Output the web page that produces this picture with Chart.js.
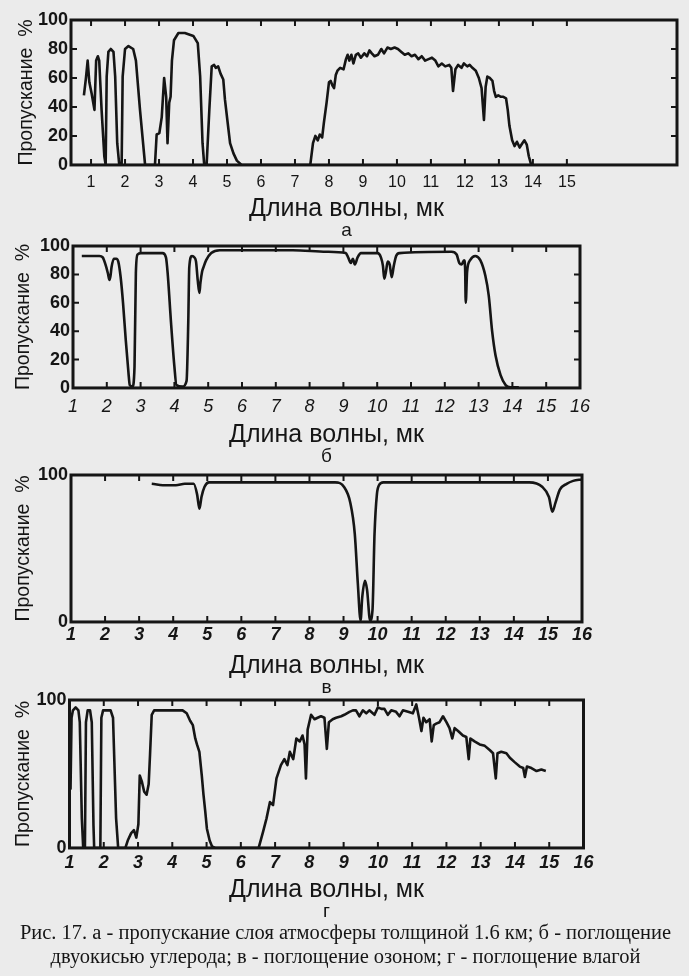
<!DOCTYPE html>
<html lang="ru">
<head>
<meta charset="utf-8">
<title>Рис. 17</title>
<script src="https://cdn.jsdelivr.net/npm/chart.js@4.4.1/dist/chart.umd.min.js"></script>
<style>
  html, body { margin: 0; padding: 0; background: #ebebeb; }
  body { width: 689px; height: 976px; position: relative; overflow: hidden; }
  canvas { position: absolute; left: 0; }
  .caption {
    position: absolute; left: 0; top: 920px; width: 691px;
    text-align: center; color: #151515;
    font: 20.5px 'Liberation Serif', 'Times New Roman', serif; line-height: 24px;
  }
</style>
</head>
<body>
<canvas id="chartA" width="689" height="240" style="top:0px"></canvas>
<canvas id="chartB" width="689" height="238" style="top:228px"></canvas>
<canvas id="chartC" width="689" height="239" style="top:458px"></canvas>
<canvas id="chartD" width="689" height="237" style="top:684px"></canvas>
<div class="caption">Рис. 17. а - пропускание слоя атмосферы толщиной 1.6 км; б - поглощение<br>двуокисью углерода; в - поглощение озоном; г - поглощение влагой</div>

<script>
const ink = '#151515';
const yTitle = 'Пропускание  %';
const xTitle = 'Длина волны, мк';

// а - атмосфера 1.6 км
const waveA = [
  0.79, 0.85, 0.90, 0.95, 1.02, 1.10, 1.15, 1.20, 1.24, 1.31, 1.39, 1.43,
  1.46, 1.51, 1.58, 1.66, 1.71, 1.77, 1.83,
  1.90, 1.93, 2.00, 2.10, 2.24, 2.32, 2.44, 2.59,
  2.88, 2.93, 3.01, 3.08, 3.15, 3.21, 3.25, 3.30, 3.34, 3.38, 3.44, 3.57, 3.76, 4.01, 4.14, 4.21, 4.28, 4.33,
  4.40, 4.48, 4.55, 4.62, 4.67, 4.74, 4.81, 4.89, 4.94, 5.01, 5.09, 5.19, 5.29, 5.43,
  7.45, 7.53, 7.60, 7.67, 7.73, 7.80, 7.85, 7.93, 8.00, 8.05, 8.10, 8.15, 8.20, 8.25, 8.33, 8.43, 8.50, 8.55,
  8.60, 8.66, 8.72, 8.79, 8.86, 8.94, 9.04, 9.12, 9.19, 9.26, 9.34, 9.44, 9.54, 9.62, 9.72, 9.82, 9.93,
  10.03, 10.13, 10.23, 10.33, 10.43, 10.53, 10.63, 10.73, 10.83, 10.93, 11.03, 11.13, 11.22, 11.32, 11.42,
  11.54, 11.60, 11.65, 11.72, 11.80, 11.90, 11.97, 12.07, 12.14, 12.22, 12.32, 12.41, 12.49, 12.56, 12.61,
  12.66, 12.73, 12.81, 12.86, 12.91, 12.98, 13.06, 13.13, 13.21, 13.26, 13.31, 13.39, 13.46, 13.53, 13.61,
  13.69, 13.75, 13.82, 13.88, 13.95
];
const transA = [
  48, 60, 72, 57, 49, 38, 72, 75, 72, 38, 6, 0,
  61, 78, 80, 78, 61, 15, 0,
  0, 61, 80, 82, 80, 72, 38, 0,
  0, 21, 22, 33, 60, 47, 15, 43, 47, 72, 86, 91, 91, 89, 84, 61, 15, 0,
  0, 38, 68, 69, 67, 68, 63, 59, 45, 31, 15, 8, 3, 0,
  0, 15, 20, 17, 21, 19, 29, 43, 57, 58, 55, 53, 62, 65, 67, 66, 73, 76,
  72, 76, 70, 76, 77, 74, 77, 75, 79, 77, 75, 76, 80, 77, 81, 80, 81,
  80, 78, 76, 77, 75, 76, 73, 75, 72, 73, 74, 72, 68, 70, 68,
  69, 67, 51, 66, 69, 67, 70, 68, 69, 67, 65, 60, 53, 31, 54,
  61, 60, 58, 51, 47, 48, 47, 47, 46, 38, 27, 17, 13, 16, 12,
  15, 17, 14, 6, 0
];

// б - двуокись углерода
const waveB = [
  1.26, 1.78, 1.88, 1.96, 2.03, 2.08, 2.11, 2.14, 2.21, 2.28, 2.34, 2.41, 2.48, 2.56, 2.64,
  2.68, 2.76, 2.82, 2.86, 2.91, 3.01, 3.65, 3.75, 3.80, 3.90, 4.00, 4.06, 4.24, 4.36, 4.41,
  4.44, 4.52, 4.59, 4.64, 4.69, 4.74, 4.77, 4.82, 4.86, 4.94, 5.09, 5.34, 5.83, 6.43, 7.50,
  8.50, 9.07, 9.14, 9.22, 9.28, 9.34, 9.42, 9.52, 10.01, 10.11, 10.17, 10.21, 10.26, 10.31, 10.37,
  10.43, 10.49, 10.56, 10.66, 12.20, 12.35, 12.43, 12.50, 12.57, 12.60, 12.62, 12.66, 12.75, 12.90, 13.05,
  13.20, 13.30, 13.40, 13.50, 13.65, 13.80, 13.94, 14.19
];
const transB = [
  93, 93, 92, 87, 81, 76, 79, 85, 91, 91, 89, 78, 60, 34, 11,
  2, 1, 15, 81, 94, 95, 95, 92, 81, 46, 15, 2, 1, 5, 46,
  85, 93, 92, 89, 76, 67, 74, 82, 85, 90, 95, 97, 97, 97, 97,
  96, 95, 92, 88, 91, 87, 92, 95, 95, 92, 86, 77, 82, 89, 87,
  78, 86, 93, 95, 96, 94, 88, 87, 90, 85, 60, 82, 90, 93, 90,
  79, 65, 40, 23, 9, 2, 0.5, 0.5
];

// в - озон
const waveC = [
  3.37, 3.82, 4.08, 4.34, 4.60, 4.70, 4.77, 4.83, 4.92, 5.05,
  8.75, 9.01, 9.20, 9.33, 9.42, 9.50, 9.55, 9.63, 9.69, 9.78,
  9.85, 9.91, 9.98, 10.04, 10.17, 14.45, 14.83, 15.03, 15.13, 15.22,
  15.35, 15.55, 15.74, 16.0
];
const transC = [
  94, 93, 93, 94, 94, 87, 77, 85, 92, 95,
  95, 92, 81, 60, 26, 1, 17, 28, 22, 1,
  8, 60, 87, 93, 95, 95, 92, 85, 75, 81,
  90, 94, 96, 97
];

// г - влага
const waveD = [
  1.00, 1.03, 1.06, 1.10, 1.18, 1.26, 1.30, 1.36, 1.40,
  1.45, 1.48, 1.53, 1.60, 1.65, 1.70, 1.72,
  1.90, 1.93, 1.98, 2.20, 2.27, 2.36, 2.42,
  2.63, 2.70, 2.80, 2.88, 2.95, 3.01, 3.05, 3.11, 3.18, 3.25, 3.31, 3.35, 3.40, 3.47, 4.30,
  4.42, 4.52, 4.60, 4.67, 4.72, 4.79, 4.86, 4.91, 4.96, 5.01, 5.09, 5.16, 5.25,
  6.52, 6.65, 6.75, 6.85, 6.94, 7.04, 7.17, 7.27, 7.36, 7.43, 7.53, 7.62, 7.72, 7.80, 7.86, 7.90, 7.95, 8.05,
  8.15, 8.24, 8.34, 8.44, 8.51, 8.57, 8.68, 8.78, 8.93, 9.02, 9.17, 9.27, 9.36, 9.46, 9.56,
  9.66, 9.75, 9.90, 10.00, 10.10, 10.19, 10.29, 10.39, 10.53, 10.63, 10.73, 10.88, 11.02, 11.12, 11.20,
  11.27, 11.33, 11.41, 11.51, 11.57, 11.63, 11.70, 11.80, 11.90, 12.00, 12.09, 12.17, 12.24, 12.34, 12.48,
  12.58, 12.65, 12.70, 12.82, 12.97, 13.12, 13.27, 13.36, 13.44, 13.49, 13.60, 13.75, 13.85, 13.99, 14.14,
  14.24, 14.29, 14.35, 14.48, 14.63, 14.77, 14.90
];
const transD = [
  55, 40, 88, 93, 95, 93, 85, 20, 0,
  0, 85, 93, 93, 85, 15, 0,
  0, 88, 93, 93, 88, 20, 0,
  0, 5, 10, 12, 7, 16, 49, 45, 38, 36, 43, 63, 90, 93, 93,
  91, 86, 83, 74, 70, 65, 49, 36, 25, 13, 5, 1, 0,
  0, 11, 20, 31, 29, 47, 56, 60, 56, 65, 60, 74, 72, 76, 70, 47, 80, 90,
  87, 88, 89, 88, 67, 85, 87, 88, 89, 90, 92, 93, 93, 89, 93,
  91, 93, 90, 95, 94, 94, 90, 93, 92, 89, 93, 92, 91, 97, 88,
  79, 88, 85, 87, 72, 83, 84, 85, 89, 85, 81, 74, 81, 79, 76,
  75, 60, 74, 72, 70, 69, 66, 64, 47, 64, 65, 64, 61, 58, 55,
  54, 48, 55, 54, 52, 53, 52
];

const xTicksA = [1, 2, 3, 4, 5, 6, 7, 8, 9, 10, 11, 12, 13, 14, 15];
const xTicksBCD = [1, 2, 3, 4, 5, 6, 7, 8, 9, 10, 11, 12, 13, 14, 15, 16];
const yTicksAB = [0, 20, 40, 60, 80, 100];
const yTicksCD = [0, 100];

const font = "'Liberation Sans', Arial, sans-serif";
Chart.defaults.font.family = font;
Chart.defaults.color = ink;

// thick frame with short inward tick marks
const framePlugin = {
  id: 'frame',
  afterDatasetsDraw(chart) {
    const {ctx, chartArea: a, scales: {x, y}} = chart;
    ctx.save();
    ctx.strokeStyle = ink;
    ctx.lineWidth = 3;
    ctx.strokeRect(a.left, a.top, a.right - a.left, a.bottom - a.top);
    ctx.lineWidth = 2;
    ctx.beginPath();
    x.ticks.forEach(t => {
      const px = x.getPixelForValue(t.value);
      if (px < a.left + 3 || px > a.right - 3) return;
      ctx.moveTo(px, a.bottom); ctx.lineTo(px, a.bottom - 6);
      ctx.moveTo(px, a.top); ctx.lineTo(px, a.top + 6);
    });
    y.ticks.forEach(t => {
      const py = y.getPixelForValue(t.value);
      if (py < a.top + 3 || py > a.bottom - 3) return;
      ctx.moveTo(a.left, py); ctx.lineTo(a.left + 6, py);
      ctx.moveTo(a.right, py); ctx.lineTo(a.right - 6, py);
    });
    ctx.stroke();
    ctx.restore();
  }
};

function drawPanel(id, wave, trans, o) {
  const points = wave.map((w, i) => ({x: w, y: trans[i]}));
  return new Chart(document.getElementById(id), {
    type: 'line',
    data: {
      datasets: [{
        data: points,
        borderColor: ink,
        borderWidth: 2.6,
        borderJoinStyle: 'round',
        pointRadius: 0,
        tension: 0,
        cubicInterpolationMode: o.smooth ? 'monotone' : 'default',
        fill: false
      }]
    },
    options: {
      responsive: false,
      animation: false,
      events: [],
      layout: { padding: o.padding },
      plugins: {
        legend: { display: false },
        tooltip: { enabled: false },
        title: {
          display: true, text: xTitle, position: 'bottom', weight: 1000,
          fullSize: o.fullTitle, color: ink,
          font: { size: 25, weight: 'normal', lineHeight: 1 },
          padding: { top: o.titleGap, bottom: 0 }
        },
        subtitle: {
          display: true, text: o.letter, position: 'bottom', weight: 1500,
          fullSize: o.fullTitle, color: ink,
          font: { size: 19, lineHeight: 0.95 },
          padding: 0
        }
      },
      scales: {
        x: {
          type: 'linear', min: o.xMin, max: o.xMax,
          grid: { display: false, drawTicks: false },
          border: { display: false },
          afterBuildTicks: s => { s.ticks = o.xTicks.map(v => ({value: v})); },
          afterFit: s => { s.height = o.xAxisHeight; },
          ticks: { font: o.xFont, color: ink, padding: o.xPad, maxRotation: 0, autoSkip: false }
        },
        y: {
          min: 0, max: 100,
          grid: { display: false, drawTicks: false },
          border: { display: false },
          afterBuildTicks: s => { s.ticks = o.yTicks.map(v => ({value: v})); },
          afterFit: s => { s.width = o.yAxisWidth; },
          ticks: { font: { size: 18, weight: 'bold' }, color: ink, padding: 3 },
          title: {
            display: true, text: yTitle, color: ink,
            font: { size: 19.5, lineHeight: 1.1 },
            padding: { top: 0, bottom: 0 }
          }
        }
      }
    },
    plugins: [framePlugin]
  });
}

drawPanel('chartA', waveA, transA, {
  letter: 'а', smooth: false, fullTitle: true,
  xMin: 0.41, xMax: 18.24, xTicks: xTicksA, yTicks: yTicksAB,
  padding: { top: 20, left: 16, right: 12, bottom: 0.5 },
  yAxisWidth: 55, xAxisHeight: 28, xPad: 8, titleGap: 3.5,
  xFont: { size: 16 }
});

drawPanel('chartB', waveB, transB, {
  letter: 'б', smooth: true, fullTitle: false,
  xMin: 1, xMax: 16, xTicks: xTicksBCD, yTicks: yTicksAB,
  padding: { top: 18, left: 13, right: 109, bottom: 0.5 },
  yAxisWidth: 60, xAxisHeight: 30, xPad: 8, titleGap: 4.5,
  xFont: { size: 18, style: 'italic' }
});

drawPanel('chartC', waveC, transC, {
  letter: 'в', smooth: true, fullTitle: false,
  xMin: 1, xMax: 16, xTicks: xTicksBCD, yTicks: yTicksCD,
  padding: { top: 17, left: 13, right: 107, bottom: 0.5 },
  yAxisWidth: 58, xAxisHeight: 22, xPad: 2, titleGap: 9.5,
  xFont: { size: 18, style: 'italic', weight: 'bold' }
});

drawPanel('chartD', waveD, transD, {
  letter: 'г', smooth: false, fullTitle: false,
  xMin: 1, xMax: 16, xTicks: xTicksBCD, yTicks: yTicksCD,
  padding: { top: 16, left: 13, right: 105.5, bottom: 0.5 },
  yAxisWidth: 56.5, xAxisHeight: 24, xPad: 4, titleGap: 5.5,
  xFont: { size: 18, style: 'italic', weight: 'bold' }
});
</script>
</body>
</html>
